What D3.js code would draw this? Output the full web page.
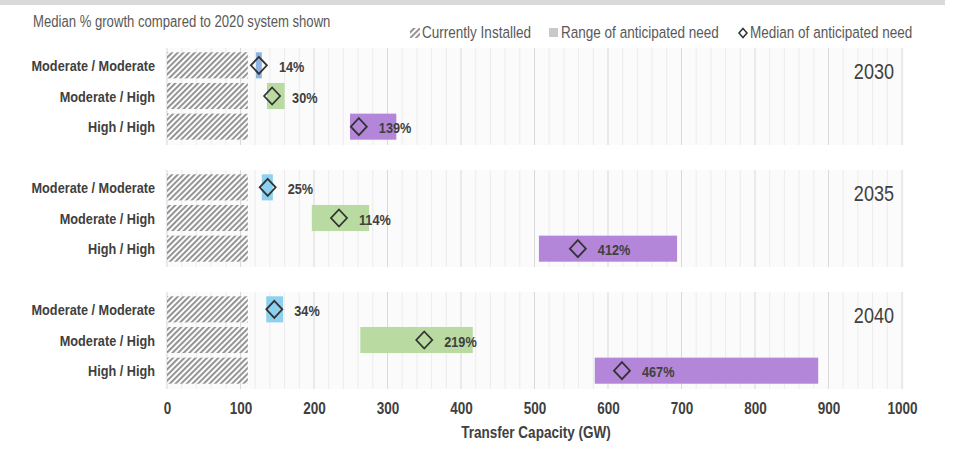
<!DOCTYPE html>
<html><head><meta charset="utf-8">
<script src="https://cdn.jsdelivr.net/npm/d3@7"></script>
<style>
html,body{margin:0;padding:0;background:#fff;}
svg{display:block;}
text{font-family:"Liberation Sans",Arial,sans-serif;}
</style></head>
<body><svg id="chart" width="960" height="454"></svg>
<script>
// ---------- data ----------
const years = ["2030", "2035", "2040"];
const categories = ["Moderate / Moderate", "Moderate / High", "High / High"];
const installed = 110; // GW, currently installed (2020 system)
// range of anticipated need [low, high] per year, per category
const rangeLow2030 = [121, 136, 249];
const rangeHigh2030 = [129, 160, 312];
const rangeLow2035 = [129, 197, 506];
const rangeHigh2035 = [144, 275, 694];
const rangeLow2040 = [135, 263, 582];
const rangeHigh2040 = [158, 416, 886];
// median of anticipated need (GW)
const median2030 = [125, 143, 261];
const median2035 = [137, 234, 559];
const median2040 = [146, 350, 619];
// median % growth labels
const growth2030 = ["14%", "30%", "139%"];
const growth2035 = ["25%", "114%", "412%"];
const growth2040 = ["34%", "219%", "467%"];
const xTicks = [0, 100, 200, 300, 400, 500, 600, 700, 800, 900, 1000];
const barColors2030 = ["#8db4e2", "#b9dba2", "#b486d9"];
const barColors = ["#8ed0f0", "#b9dba2", "#b486d9"];

const rangeLow = [rangeLow2030, rangeLow2035, rangeLow2040];
const rangeHigh = [rangeHigh2030, rangeHigh2035, rangeHigh2040];
const medians = [median2030, median2035, median2040];
const growth = [growth2030, growth2035, growth2040];

const NARROW = 0.82;
// condensed text helper (Arial Narrow look)
function ntext(parent, xx, yy, str, size, opts = {}) {
  const t = parent.append("g").attr("transform", `translate(${xx},${yy}) scale(${NARROW},1)`)
    .append("text").attr("x", 0).attr("y", 0).attr("font-size", size)
    .attr("fill", opts.fill || "#404040")
    .attr("font-weight", opts.bold ? "bold" : "normal")
    .attr("text-anchor", opts.anchor || "start").text(str);
  return t;
}

// ---------- scales ----------
const svg = d3.select("#chart");
const x = d3.scaleLinear().domain([0, 1000]).range([167, 902]);
const yPanel = d3.scaleBand().domain(years).range([48, 389]).paddingInner(0.205).paddingOuter(0);
const yRow = d3.scaleBand().domain(categories).range([2, 94]).paddingInner(0.15).paddingOuter(0.075);

// ---------- defs: hatch ----------
const defs = svg.append("defs");
const pat = defs.append("pattern").attr("id", "hatch").attr("patternUnits", "userSpaceOnUse")
  .attr("width", 4).attr("height", 4).attr("patternTransform", "rotate(45)");
pat.append("rect").attr("width", 4).attr("height", 4).attr("fill", "#ffffff").attr("fill-opacity", 0.5);
pat.append("rect").attr("x", 0).attr("width", 1.8).attr("height", 4).attr("fill", "#8a8a8a");

// top band
svg.append("rect").attr("x", 0).attr("y", 0).attr("width", 945).attr("height", 5).attr("fill", "#d9d9d9");

// subtitle
ntext(svg, 33, 27, "Median % growth compared to 2020 system shown", 16, { fill: "#595959" });

// legend
const lg = svg.append("g");
lg.append("rect").attr("x", 410).attr("y", 28).attr("width", 10).attr("height", 10).attr("fill", "url(#hatch)");
ntext(lg, 422, 38, "Currently Installed", 16.5, { fill: "#595959" });
lg.append("rect").attr("x", 549).attr("y", 28).attr("width", 9).attr("height", 9).attr("fill", "#c9c9c9");
ntext(lg, 561, 38, "Range of anticipated need", 16.5, { fill: "#595959" });
lg.append("path").attr("d", "M743,28.5L747,33L743,37.5L739,33Z")
  .attr("fill", "none").attr("stroke", "#333").attr("stroke-width", 1.5);
ntext(lg, 750, 38, "Median of anticipated need", 16.5, { fill: "#595959" });

// ---------- panels ----------
const minorTicks = d3.range(0, 1001, 20);
years.forEach((yr, pi) => {
  const top = yPanel(yr);
  const h = yPanel.bandwidth();
  const g = svg.append("g").attr("transform", `translate(0,${top})`);
  g.append("rect").attr("x", x(0) - 2).attr("y", 0).attr("width", x(1000) - x(0) + 4).attr("height", h).attr("fill", "#fbfbfb");
  g.selectAll("line.grid").data(minorTicks).join("line")
    .attr("x1", d => x(d)).attr("x2", d => x(d)).attr("y1", 0).attr("y2", h)
    .attr("stroke", d => d % 100 === 0 ? "#d9d9d9" : "#ececec").attr("stroke-width", 1);
  // year label
  ntext(g, 894, 31, yr, 22, { anchor: "end" });
  categories.forEach((cat, ci) => {
    const yy = yRow(cat);
    const bh = yRow.bandwidth();
    const cy = yy + bh / 2;
    g.append("rect").attr("x", x(0)).attr("y", yy).attr("width", x(installed) - x(0)).attr("height", bh)
      .attr("fill", "url(#hatch)");
    const col = pi === 0 ? barColors2030[ci] : barColors[ci];
    g.append("rect").attr("x", x(rangeLow[pi][ci])).attr("y", yy)
      .attr("width", x(rangeHigh[pi][ci]) - x(rangeLow[pi][ci])).attr("height", bh).attr("fill", col);
    const mx = x(medians[pi][ci]);
    g.append("path").attr("d", `M${mx},${cy - 8.5}L${mx + 8},${cy}L${mx},${cy + 8.5}L${mx - 8},${cy}Z`)
      .attr("fill", "none").attr("stroke", "#333").attr("stroke-width", 1.8);
    ntext(g, mx + 20, cy + 6.5, growth[pi][ci], 15.5, { bold: true });
    ntext(g, 155, cy + 5.5, cat, 15.5, { bold: true, anchor: "end" });
  });
});

// ---------- x axis ----------
const axis = svg.append("g").attr("transform", "translate(0,397)")
  .call(d3.axisBottom(x).tickValues(xTicks).tickSize(0).tickPadding(0).tickFormat(d3.format("d")));
axis.select(".domain").remove();
axis.selectAll("text").attr("dy", 0).attr("y", 17).attr("font-size", 16.5).attr("font-weight", "bold")
  .attr("fill", "#404040").attr("font-family", '"Liberation Sans",Arial,sans-serif')
  .attr("transform", `scale(${NARROW},1)`);

ntext(svg, 536, 438, "Transfer Capacity (GW)", 16.5, { bold: true, anchor: "middle" });
</script></body></html>
